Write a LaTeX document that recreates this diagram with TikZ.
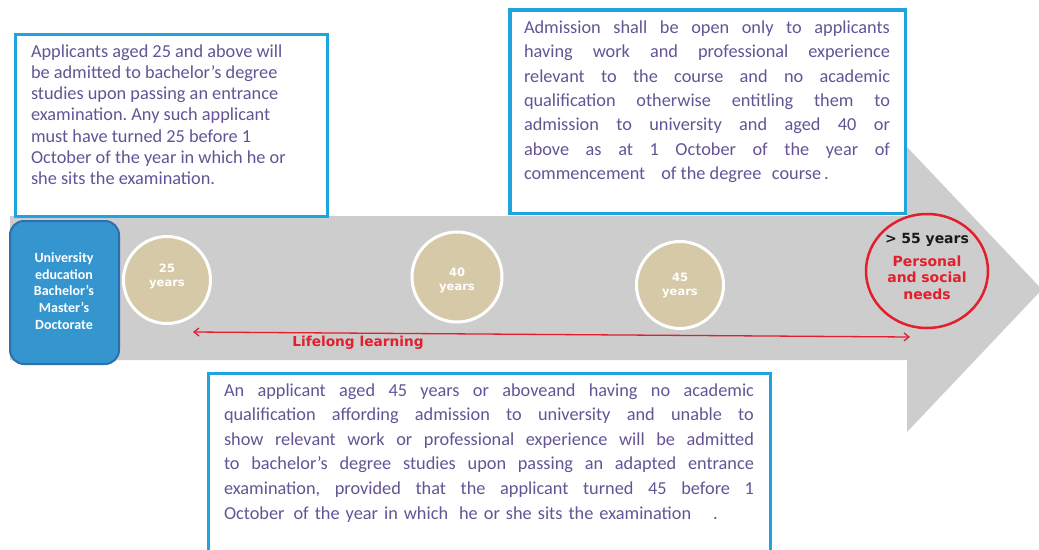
\documentclass[tikz,border=0pt]{standalone}
\usepackage{fontspec}
\setmainfont{Carlito}
\newfontfamily\dvs{DejaVu Sans}
\usetikzlibrary{shapes.geometric,arrows.meta,calc}
\definecolor{boxblue}{HTML}{1FA5DE}
\definecolor{txtpurple}{RGB}{100,84,150}
\definecolor{arrowgrey}{HTML}{CDCDCD}
\definecolor{tan}{HTML}{D6C9A7}
\definecolor{lred}{HTML}{E31E2D}
\definecolor{unifill}{HTML}{3595CE}
\definecolor{uniedge}{HTML}{2C6FAF}
\newcommand\jline[2]{\makebox[#1][s]{\spaceskip=0.226em plus 1fil\relax #2}}
\frenchspacing
\begin{document}
\begin{tikzpicture}[x=1pt,y=-1pt,
  infobox/.style={draw=boxblue, fill=white, inner sep=0pt, outer sep=0pt, anchor=north west},
  boxtext/.style={text=txtpurple, inner sep=0pt, outer sep=0pt, anchor=base west, align=justify},
  unibox/.style={draw=uniedge, fill=unifill, line width=2pt, rounded corners=14pt, inner sep=0pt, anchor=north west},
  unitext/.style={text=white, inner sep=0pt, anchor=base, align=center, text width=100pt,
     font=\fontsize{14}{16.75}\selectfont\bfseries},
  agecirc/.style={circle, draw=white, line width=3pt, fill=tan, minimum size=87pt, inner sep=0pt},
  agetext/.style={text=white, inner sep=0pt, anchor=base, align=center, text width=60pt,
     font=\dvs\bfseries\fontsize{11.5}{14.2}\selectfont},
  needcirc/.style={ellipse, draw=lred, line width=2.5pt, minimum width=122pt, minimum height=114pt, inner sep=0pt},
  needtext/.style={inner sep=0pt, anchor=base, align=center, text width=110pt,
     font=\dvs\bfseries\fontsize{14}{16.5}\selectfont},
  llarrow/.style={draw=lred, line width=1.3pt, {Straight Barb[length=5pt,width=8pt]}-{Straight Barb[length=5pt,width=8pt]}},
  llabel/.style={text=lred, inner sep=0pt, font=\dvs\bfseries\fontsize{13.7}{16}\selectfont}
]
\useasboundingbox (0,0) rectangle (1039,549);
\clip (0,0) rectangle (1039,549);
% grey timeline arrow
\fill[arrowgrey] (10,216) -- (907,216) -- (907,147) -- (1042,289.5) -- (907,432) -- (907,360) -- (10,360) -- cycle;

% text boxes
\node[infobox, line width=3pt, minimum width=312pt, minimum height=182pt] (tl) at (15.5,34.5) {};
\node[boxtext, text width=300pt, font=\fontsize{18.3}{21.3}\selectfont] (tltext) at (31,57)
 {Applicants aged 25 and above will\\
  be admitted to bachelor’s degree\\
  studies upon passing an entrance\\
  examination. Any such applicant\\
  must have turned 25 before 1\\
  October of the year in which he or\\
  she sits the examination.};

\node[infobox, line width=3.5pt, minimum width=395.5pt, minimum height=203.5pt] (tr) at (509.75,9.75) {};
\node[boxtext, text width=380pt, font=\fontsize{18.3}{24.4}\selectfont] (trtext) at (524,33.3)
 {\jline{366pt}{Admission shall be open only to applicants}\\
  \jline{366pt}{having work and professional experience}\\
  \jline{366pt}{relevant to the course and no academic}\\
  \jline{366pt}{qualification otherwise entitling them to}\\
  \jline{366pt}{admission to university and aged 40 or}\\
  \jline{366pt}{above as at 1 October of the year of}\\
  commencement\hspace{16pt}of the degree\hspace{10.5pt}course\hspace{3pt}.};

\node[infobox, line width=3pt, minimum width=562pt, minimum height=200pt] (bt) at (208.5,373.5) {};
\node[boxtext, text width=545pt, font=\fontsize{18.3}{24.6}\selectfont] (bttext) at (224,396)
 {\jline{530pt}{An applicant aged 45 years or aboveand having no academic}\\
  \jline{530pt}{qualification affording admission to university and unable to}\\
  \jline{530pt}{show relevant work or professional experience will be admitted}\\
  \jline{530pt}{to bachelor’s degree studies upon passing an adapted entrance}\\
  \jline{530pt}{examination, provided that the applicant turned 45 before 1}\\
  {\spaceskip=0.33em\relax October\hspace{9pt}of the year in which\hspace{11pt}he or she sits the examination\hspace{22pt}.}};

% university box
\node[unibox, minimum width=109pt, minimum height=143pt] (uni) at (9,220) {};
\node[unitext] (unitxt) at (64,262.3) {University\\education\\Bachelor’s\\Master’s\\Doctorate};

% age circles
\node[agecirc] (c25) at (167,280) {};
\node[agetext] (t25) at (167,272.7) {25\\years};
\node[agecirc, minimum size=90pt] (c40) at (457,277) {};
\node[agetext] (t40) at (457,276) {40\\years};
\node[agecirc] (c45) at (680,285) {};
\node[agetext] (t45) at (680,281) {45\\years};

% needs circle
\node[needcirc] (needs) at (927,271) {};
\node[needtext, text=black!90] (n55) at (927,243.3) {> 55 years};
\node[needtext, text=lred] (ntxt) at (927,266) {Personal\\and social\\needs};

% lifelong learning
\coordinate (la) at (193,332);
\coordinate (lb) at (910,337);
\draw[llarrow] (la) -- (lb);
\node[llabel] (ll) at (358,343) {Lifelong learning};
\end{tikzpicture}
\end{document}
